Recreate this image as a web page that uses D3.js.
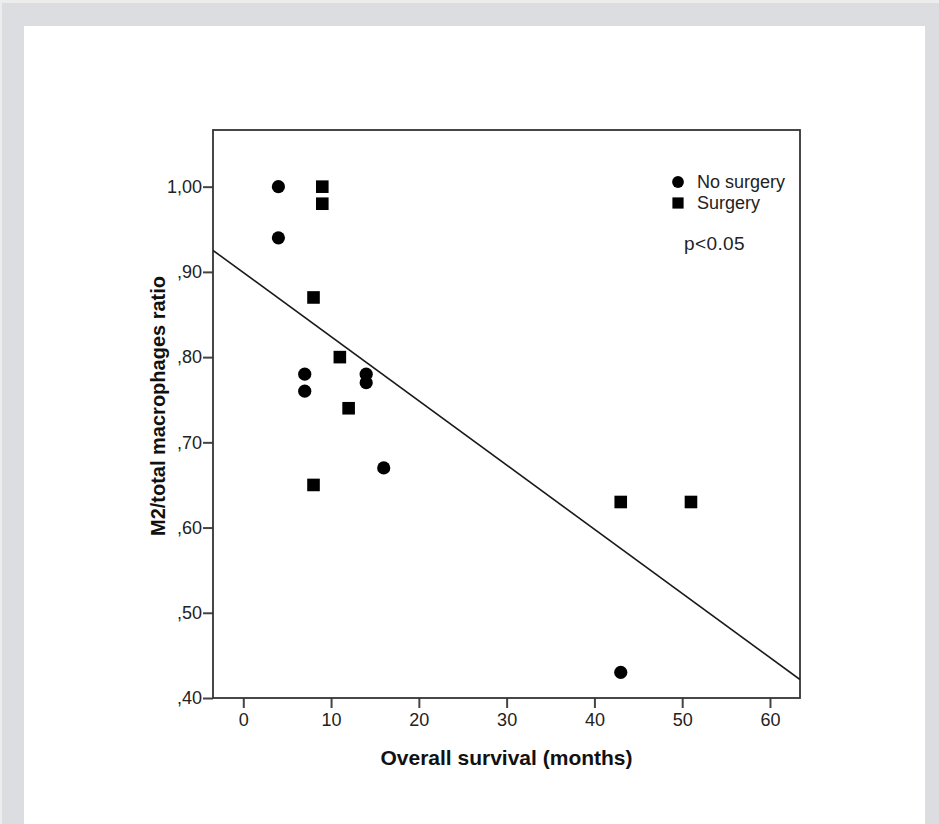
<!DOCTYPE html>
<html>
<head>
<meta charset="utf-8">
<script src="https://cdn.jsdelivr.net/npm/d3@7"></script>
<style>
  html, body { margin: 0; padding: 0; background: #dcdde0; }
  svg { display: block; }
  text { font-family: "Liberation Sans", Arial, sans-serif; }
</style>
</head>
<body>
<div id="chart"></div>
<script>
// Overall survival (months) vs M2/total macrophages ratio

const noSurgeryX = [4, 4, 7, 7, 14, 14, 16, 43];
const noSurgeryY = [1.00, 0.94, 0.78, 0.76, 0.78, 0.77, 0.67, 0.43];

const surgeryX = [9, 9, 8, 11, 12, 8, 43, 51];
const surgeryY = [1.00, 0.98, 0.87, 0.80, 0.74, 0.65, 0.63, 0.63];

const xTicks = [0, 10, 20, 30, 40, 50, 60];
const yTicks = [0.40, 0.50, 0.60, 0.70, 0.80, 0.90, 1.00];

const legendLabels = ['No surgery', 'Surgery'];
const pLabel = 'p<0.05';

const W = 939, H = 824;
const plot = { left: 213, top: 130, right: 800, bottom: 698 };

const svg = d3.select('#chart').append('svg')
  .attr('width', W)
  .attr('height', H);

// ── page panels ──────────────────────────────────────────────────────────
svg.append('rect').attr('x', 0).attr('y', 0).attr('width', W).attr('height', H).attr('fill', '#dcdde0');
svg.append('rect').attr('x', 0).attr('y', 0).attr('width', W).attr('height', 3).attr('fill', '#ededee');
svg.append('rect').attr('x', 0).attr('y', 0).attr('width', 2).attr('height', H).attr('fill', '#ededee');
svg.append('rect').attr('x', 24).attr('y', 26).attr('width', 901).attr('height', H - 26).attr('fill', '#ffffff');

// ── scales ───────────────────────────────────────────────────────────────
const x = d3.scaleLinear().domain([-3.45, 63.42]).range([plot.left, plot.right]);
const y = d3.scaleLinear().domain([0.40, 1.0665]).range([plot.bottom, plot.top]);

const fmtY = v => d3.format('.2f')(v).replace(/^0\./, ',').replace('.', ',');

// ── axes ─────────────────────────────────────────────────────────────────
const xAxis = svg.append('g')
  .attr('transform', `translate(0,${plot.bottom})`)
  .call(d3.axisBottom(x).tickValues(xTicks).tickSize(10).tickPadding(5).tickFormat(d3.format('d')));

const yAxis = svg.append('g')
  .attr('transform', `translate(${plot.left},0)`)
  .call(d3.axisLeft(y).tickValues(yTicks).tickSize(10).tickPadding(1).tickFormat(fmtY));

[xAxis, yAxis].forEach(ax => {
  ax.select('.domain').remove();
  ax.selectAll('.tick line').attr('stroke', '#444').attr('stroke-width', 2);
  ax.selectAll('.tick text')
    .attr('fill', '#222')
    .style('font-size', '18px')
    .style('font-family', '"Liberation Sans", Arial, sans-serif');
});

// frame
svg.append('rect')
  .attr('x', plot.left).attr('y', plot.top)
  .attr('width', plot.right - plot.left).attr('height', plot.bottom - plot.top)
  .attr('fill', 'none')
  .attr('stroke', '#333')
  .attr('stroke-width', 1.8);

// ── fit line (least squares over all points) ───────────────────────────────
const allX = noSurgeryX.concat(surgeryX);
const allY = noSurgeryY.concat(surgeryY);
const mx = d3.mean(allX), my = d3.mean(allY);
const slope = d3.sum(allX, (v, i) => (v - mx) * (allY[i] - my)) / d3.sum(allX, v => (v - mx) ** 2);
const intercept = my - slope * mx;

svg.append('clipPath').attr('id', 'clip')
  .append('rect')
  .attr('x', plot.left).attr('y', plot.top)
  .attr('width', plot.right - plot.left).attr('height', plot.bottom - plot.top);

const [x0, x1] = x.domain();
svg.append('line')
  .attr('clip-path', 'url(#clip)')
  .attr('x1', x(x0)).attr('y1', y(intercept + slope * x0))
  .attr('x2', x(x1)).attr('y2', y(intercept + slope * x1))
  .attr('stroke', '#1a1a1a')
  .attr('stroke-width', 1.6);

// ── points ───────────────────────────────────────────────────────────────
const circles = noSurgeryX.map((v, i) => ({ x: v, y: noSurgeryY[i] }));
const squares = surgeryX.map((v, i) => ({ x: v, y: surgeryY[i] }));

svg.append('g').selectAll('circle')
  .data(circles)
  .join('circle')
  .attr('cx', d => x(d.x))
  .attr('cy', d => y(d.y))
  .attr('r', 6.6)
  .attr('fill', '#000');

const sq = 12.6;
svg.append('g').selectAll('rect')
  .data(squares)
  .join('rect')
  .attr('x', d => x(d.x) - sq / 2)
  .attr('y', d => y(d.y) - sq / 2)
  .attr('width', sq)
  .attr('height', sq)
  .attr('fill', '#000');

// ── legend ───────────────────────────────────────────────────────────────
const legend = svg.append('g').attr('transform', 'translate(678,182)');
legend.append('circle').attr('cx', 0).attr('cy', 0).attr('r', 5.9).attr('fill', '#000');
legend.append('rect').attr('x', -5.6).attr('y', 21 - 5.6).attr('width', 11.2).attr('height', 11.2).attr('fill', '#000');
legend.selectAll('text.lg')
  .data(legendLabels)
  .join('text')
  .attr('class', 'lg')
  .attr('x', 19)
  .attr('y', (d, i) => 5.8 + i * 20.8)
  .attr('fill', '#222')
  .style('font-size', '18px')
  .text(d => d);

svg.append('text')
  .attr('x', 684)
  .attr('y', 250)
  .attr('fill', '#222')
  .style('font-size', '19px')
  .style('letter-spacing', '0.4px')
  .text(pLabel);

// ── axis titles ──────────────────────────────────────────────────────────
svg.append('text')
  .attr('x', (plot.left + plot.right) / 2)
  .attr('y', 765)
  .attr('text-anchor', 'middle')
  .attr('fill', '#111')
  .style('font-size', '21px')
  .style('font-weight', 'bold')
  .text('Overall survival (months)');

svg.append('text')
  .attr('transform', 'translate(165,406) rotate(-90)')
  .attr('text-anchor', 'middle')
  .attr('fill', '#111')
  .style('font-size', '20px')
  .style('font-weight', 'bold')
  .text('M2/total macrophages ratio');
</script>
</body>
</html>
